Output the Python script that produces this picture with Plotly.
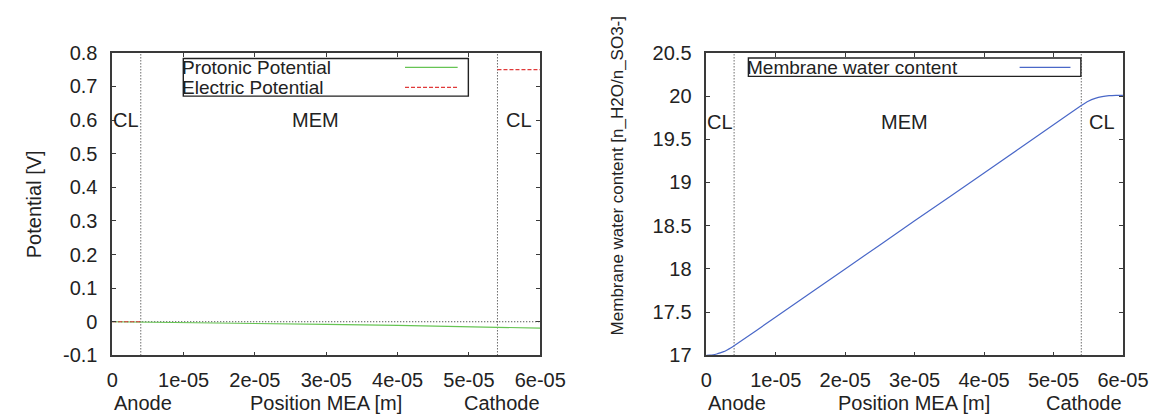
import plotly.graph_objects as go

# ---------------- data ----------------
x_ticks = [0, 1e-05, 2e-05, 3e-05, 4e-05, 5e-05, 6e-05]
x_tick_labels = ["0", "1e-05", "2e-05", "3e-05", "4e-05", "5e-05", "6e-05"]

pot_ticks = [-0.1, 0, 0.1, 0.2, 0.3, 0.4, 0.5, 0.6, 0.7, 0.8]
pot_tick_labels = ["-0.1", "0", "0.1", "0.2", "0.3", "0.4", "0.5", "0.6", "0.7", "0.8"]

wc_ticks = [17, 17.5, 18, 18.5, 19, 19.5, 20, 20.5]
wc_tick_labels = ["17", "17.5", "18", "18.5", "19", "19.5", "20", "20.5"]

# Protonic potential [V]
proton_x = [0, 4e-06, 1e-05, 2e-05, 3e-05, 4e-05, 5e-05, 5.4e-05, 5.7e-05, 6e-05]
proton_y = [0, -0.0008, -0.002, -0.0048, -0.0078, -0.0108, -0.0145, -0.016, -0.018, -0.019]

# Electric potential [V] (only defined in the catalyst layers)
electric_x = [0, 4e-06, None, 5.4e-05, 6e-05]
electric_y = [0, 0, None, 0.75, 0.75]

# Membrane water content
water_x = [0, 0.5e-06, 1e-06, 1.5e-06, 2e-06, 2.5e-06, 3e-06, 3.5e-06, 4e-06,
           1e-05, 2e-05, 3e-05, 4e-05, 5e-05, 5.4e-05,
           5.5e-05, 5.6e-05, 5.7e-05, 5.8e-05, 5.9e-05, 6e-05]
water_y = [17.0, 17.002, 17.007, 17.016, 17.028, 17.043, 17.063, 17.085, 17.11,
           17.444, 18.0, 18.556, 19.11, 19.668, 19.89,
           19.94, 19.973, 19.993, 20.004, 20.008, 20.008]

cl_anode_end = 4e-06
cl_cathode_start = 5.4e-05
region_labels = ["CL", "MEM", "CL"]
region_label_x = [0, 2.5e-05, 5.5e-05]

# ---------------- style ----------------
FONT = "Liberation Sans, Arial, sans-serif"
FS = 20
LFS = 19
TXT = "#222222"
AX = "#3a3a3a"
GREEN = "#66c453"
RED = "#e03a3a"
BLUE = "#4a68c8"
RED_DASH = "4px,2px"
DOT = "1px,2px"

fig = go.Figure()
fig.add_trace(go.Scatter(x=proton_x, y=proton_y, mode="lines", name="Protonic Potential",
                         line=dict(color=GREEN, width=1.2), xaxis="x", yaxis="y", showlegend=False))
fig.add_trace(go.Scatter(x=electric_x, y=electric_y, mode="lines", name="Electric Potential",
                         line=dict(color=RED, width=1.2, dash=RED_DASH), connectgaps=False,
                         xaxis="x", yaxis="y", showlegend=False))
fig.add_trace(go.Scatter(x=water_x, y=water_y, mode="lines", name="Membrane water content",
                         line=dict(color=BLUE, width=1.2, shape="spline", smoothing=0.5),
                         xaxis="x2", yaxis="y2", showlegend=False))

ydom = [1 - 355 / 419, 1 - 35.7 / 419]
xdom1 = [101 / 1175, 541 / 1175]
xdom2 = [711.7 / 1175, 1140 / 1175]

common_axis = dict(showgrid=False, zeroline=False, showline=True, linecolor=AX, linewidth=1.6,
                   mirror="allticks", ticks="inside", ticklen=4, tickwidth=1.2, tickcolor=AX,
                   tickfont=dict(family=FONT, size=FS, color=TXT))

fig.update_layout(
    width=1175, height=419, margin=dict(l=0, r=0, t=0, b=0),
    paper_bgcolor="white", plot_bgcolor="white",
    font=dict(family=FONT, size=FS, color=TXT),
    xaxis=dict(domain=xdom1, range=[0, 6e-05], tickvals=x_ticks, ticktext=x_tick_labels,
               anchor="y", ticklabelstandoff=6, **common_axis),
    yaxis=dict(domain=ydom, range=[-0.1, 0.8], tickvals=pot_ticks, ticktext=pot_tick_labels,
               anchor="x", ticklabelstandoff=9, **common_axis),
    xaxis2=dict(domain=xdom2, range=[0, 6e-05], tickvals=x_ticks, ticktext=x_tick_labels,
                anchor="y2", ticklabelstandoff=6, **common_axis),
    yaxis2=dict(domain=ydom, range=[17, 20.5], tickvals=wc_ticks, ticktext=wc_tick_labels,
                anchor="x2", ticklabelstandoff=9, **common_axis),
)

shapes = []
annotations = []

# catalyst-layer boundaries and zero line
for xr, yr, y0, y1 in [("x", "y", -0.1, 0.8), ("x2", "y2", 17, 20.5)]:
    for xb in [cl_anode_end, cl_cathode_start]:
        shapes.append(dict(type="line", xref=xr, yref=yr, x0=xb, x1=xb, y0=y0, y1=y1,
                           line=dict(color="#222222", width=1, dash=DOT), layer="below"))
shapes.append(dict(type="line", xref="x", yref="y", x0=0, x1=6e-05, y0=0, y1=0,
                   line=dict(color="#222222", width=1, dash=DOT), layer="below"))

# region labels
for xr, yr, ylab in [("x", "y", 0.6), ("x2", "y2", 19.7)]:
    for lab, lx in zip(region_labels, region_label_x):
        annotations.append(dict(text=lab, x=lx, y=ylab, xref=xr, yref=yr, showarrow=False,
                                xanchor="left", yanchor="middle", xshift=-1,
                                font=dict(family=FONT, size=FS, color=TXT)))

# axis labels under the x axes
for xr in ["x domain", "x2 domain"]:
    yr = "y domain" if xr == "x domain" else "y2 domain"
    annotations.append(dict(text="Anode", x=0, y=-0.157, xref=xr, yref=yr, showarrow=False,
                            xanchor="left", yanchor="middle", font=dict(family=FONT, size=FS, color=TXT)))
    annotations.append(dict(text="Cathode", x=1.003, y=-0.157, xref=xr, yref=yr, showarrow=False,
                            xanchor="right", yanchor="middle", font=dict(family=FONT, size=FS, color=TXT)))
    annotations.append(dict(text="Position MEA [m]", x=0.499, y=-0.157, xref=xr, yref=yr, showarrow=False,
                            xanchor="center", yanchor="middle", font=dict(family=FONT, size=FS, color=TXT)))

# y axis titles
annotations.append(dict(text="Potential [V]", x=20 / 1175, y=1 - 195 / 419, xref="paper", yref="paper",
                        textangle=-90, showarrow=False, xanchor="center", yanchor="middle",
                        font=dict(family=FONT, size=FS, color=TXT)))
annotations.append(dict(text="Membrane water content [n_H2O/n_SO3-]", x=620 / 1175, y=1 - 166 / 419,
                        xref="paper", yref="paper", textangle=-90, showarrow=False,
                        xanchor="center", yanchor="middle", font=dict(family=FONT, size=17, color=TXT)))

# legends (gnuplot style: text left, sample right, boxed)
def legend(xr, yr, box, entries):
    shapes.append(dict(type="rect", xref=xr, yref=yr, x0=box[0], x1=box[1], y0=box[2], y1=box[3],
                       line=dict(color="#222222", width=1.4), fillcolor="white", layer="above"))
    for name, ty, sx0, sx1, color, dash in entries:
        annotations.append(dict(text=name, x=box[0], y=ty, xref=xr, yref=yr, showarrow=False,
                                xanchor="left", yanchor="middle", xshift=-2, borderpad=0,
                                font=dict(family=FONT, size=LFS, color=TXT)))
        shapes.append(dict(type="line", xref=xr, yref=yr, x0=sx0, x1=sx1, y0=ty, y1=ty,
                           line=dict(color=color, width=1.2, dash=dash), layer="above"))

legend("x domain", "y domain", [0.166, 0.832, 0.857, 0.981],
       [("Protonic Potential", 0.952, 0.684, 0.807, GREEN, "solid"),
        ("Electric Potential", 0.886, 0.684, 0.807, RED, RED_DASH)])
legend("x2 domain", "y2 domain", [0.101, 0.899, 0.922, 0.983],
       [("Membrane water content", 0.952, 0.752, 0.874, BLUE, "solid")])

fig.update_layout(shapes=shapes, annotations=annotations)
fig.write_html("out.html")
